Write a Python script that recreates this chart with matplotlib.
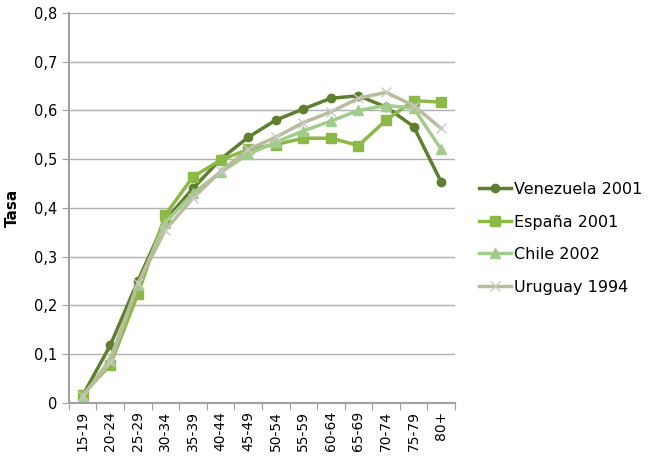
import numpy as np
import matplotlib.pyplot as plt
from matplotlib.ticker import FuncFormatter, FixedLocator

# age groups
grupos = ['15-19', '20-24', '25-29', '30-34', '35-39', '40-44', '45-49',
          '50-54', '55-59', '60-64', '65-69', '70-74', '75-79', '80+']

venezuela = [0.015, 0.118, 0.250, 0.375, 0.440, 0.500, 0.545,
             0.580, 0.603, 0.625, 0.630, 0.607, 0.567, 0.453]
espana = [0.017, 0.078, 0.223, 0.386, 0.464, 0.498, 0.520,
          0.530, 0.543, 0.543, 0.528, 0.580, 0.620, 0.617]
chile = [0.012, 0.090, 0.242, 0.370, 0.430, 0.473, 0.510,
         0.535, 0.558, 0.578, 0.600, 0.610, 0.605, 0.520]
uruguay = [0.015, 0.083, 0.245, 0.355, 0.420, 0.475, 0.520,
           0.545, 0.575, 0.597, 0.625, 0.637, 0.610, 0.563]

fig = plt.figure(figsize=(6.5, 4.63), dpi=100)
ax = fig.add_axes([0.106, 0.13, 0.594, 0.842])

x = np.arange(len(grupos))
ax.plot(x, venezuela, color='#5f7f2f', lw=2.5, marker='o', ms=6,
        label='Venezuela 2001')
ax.plot(x, espana, color='#8cb845', lw=2.5, marker='s', ms=7,
        label='España 2001')
ax.plot(x, chile, color='#a2cc8c', lw=2.5, marker='^', ms=7,
        label='Chile 2002')
ax.plot(x, uruguay, color='#b9bb9c', lw=2.5, marker='x', ms=7,
        mec='#c8c8c8', mew=1, label='Uruguay 1994')

ax.set_xlim(-0.5, len(grupos) - 0.5)
ax.set_ylim(0, 0.8)
ax.set_yticks(np.arange(0, 0.81, 0.1))
ax.yaxis.set_major_formatter(FuncFormatter(
    lambda v, p: '0' if abs(v) < 1e-9 else ('%.1f' % v).replace('.', ',')))
ax.yaxis.grid(True, color='#b0b0b0', lw=1)
ax.set_axisbelow(True)

# ticks between categories, labels at centres
ax.xaxis.set_major_locator(FixedLocator(np.arange(-0.5, len(grupos), 1)))
ax.xaxis.set_minor_locator(FixedLocator(x))
ax.set_xticklabels([])
ax.set_xticklabels(grupos, minor=True, rotation=90)
ax.tick_params(axis='x', which='major', length=5, color='#a0a0a0')
ax.tick_params(axis='x', which='minor', length=0, labelsize=10, pad=6)
ax.tick_params(axis='y', length=5, color='#a0a0a0', labelsize=10.5)

for s in ['top', 'right']:
    ax.spines[s].set_visible(False)
for s in ['left', 'bottom']:
    ax.spines[s].set_color('#a0a0a0')
    ax.spines[s].set_linewidth(1.5)

ax.set_ylabel('Tasa', fontsize=11, fontweight='bold', labelpad=10)

ax.legend(loc='center left', bbox_to_anchor=(1.045, 0.422), frameon=False,
          fontsize=11.5, handlelength=2.0, handletextpad=0.2, labelspacing=1.1,
          borderaxespad=0)

fig.savefig('out.png', dpi=100)
